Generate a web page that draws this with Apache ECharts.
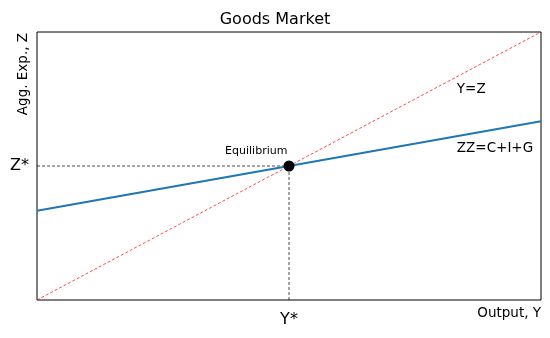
<!DOCTYPE html>
<html><head><meta charset="utf-8">
<script src="https://cdn.jsdelivr.net/npm/echarts@6/dist/echarts.min.js"></script>
<style>html,body{margin:0;padding:0;background:#fff}#c{width:550px;height:338px}</style>
</head><body><div id="c"></div>
<script>
const outputY = [0, 10];
const lineYZ = [0, 10];
const lineZZ = [3.333, 6.667];
const equilibrium = [5, 5];
const xTickLabel = 'Y*';
const yTickLabel = 'Z*';
const titleText = 'Goods Market';

const F = 'DejaVu Sans';
const chart = echarts.init(document.getElementById('c'), null, {renderer: 'canvas'});
chart.setOption({
  animation: false,
  backgroundColor: '#fff',
  title: {text: titleText, left: 'center', top: 7, textStyle: {fontFamily: F, fontSize: 16, fontWeight: 'normal', color: '#000'}},
  grid: {left: 37, right: 9, top: 32, bottom: 38, show: true, borderColor: '#000', borderWidth: 1, containLabel: false},
  xAxis: {type: 'value', min: 0, max: 10, interval: 5,
    axisLine: {show: false}, axisTick: {show: false}, splitLine: {show: false},
    axisLabel: {fontFamily: F, fontSize: 16, color: '#000', margin: 12, showMinLabel: true, showMaxLabel: true,
      formatter: v => v === equilibrium[0] ? xTickLabel : ''}},
  yAxis: {type: 'value', min: 0, max: 10, interval: 5,
    axisLine: {show: false}, axisTick: {show: false}, splitLine: {show: false},
    axisLabel: {fontFamily: F, fontSize: 16, color: '#000', margin: 8,
      formatter: v => v === equilibrium[1] ? yTickLabel : ''}},
  graphic: [
    {type: 'text', x: 23, y: 33, rotation: Math.PI / 2,
      style: {text: 'Agg. Exp., Z', font: '13.5px "DejaVu Sans"', fill: '#000', textAlign: 'right', textVerticalAlign: 'middle'}},
    {type: 'text', x: 541, y: 313,
      style: {text: 'Output, Y', font: '13.5px "DejaVu Sans"', fill: '#000', textAlign: 'right', textVerticalAlign: 'middle'}}
  ],
  series: [
    {type: 'line', data: outputY.map((x, i) => [x, lineYZ[i]]), symbol: 'none',
      lineStyle: {color: '#ff0000', width: 0.7, type: [3, 2]}, z: 2},
    {type: 'line', data: outputY.map((x, i) => [x, lineZZ[i]]), symbol: 'none',
      lineStyle: {color: '#1f77b4', width: 2}, z: 3},
    {type: 'line', data: [[outputY[0], equilibrium[1]], equilibrium], symbol: 'none',
      lineStyle: {color: '#000', width: 0.7, type: [3, 2]}, z: 2},
    {type: 'line', data: [[equilibrium[0], 0], equilibrium], symbol: 'none',
      lineStyle: {color: '#000', width: 0.7, type: [3, 2]}, z: 2},
    {type: 'scatter', data: [equilibrium], symbol: 'circle', symbolSize: 11,
      itemStyle: {color: '#000', opacity: 1}, z: 5},
    {type: 'scatter', symbolSize: 0, silent: true, z: 6, itemStyle: {opacity: 1},
      data: [
        {value: [4.35, 5.55], label: {show: true, formatter: 'Equilibrium', position: 'inside', fontFamily: F, fontSize: 11, color: '#000'}},
        {value: [8.33, 7.85], label: {show: true, formatter: 'Y=Z', position: 'right', distance: 0, fontFamily: F, fontSize: 13.5, color: '#000'}},
        {value: [8.33, 5.67], label: {show: true, formatter: 'ZZ=C+I+G', position: 'right', distance: 0, fontFamily: F, fontSize: 13.5, color: '#000'}}
      ]}
  ]
});
</script></body></html>
